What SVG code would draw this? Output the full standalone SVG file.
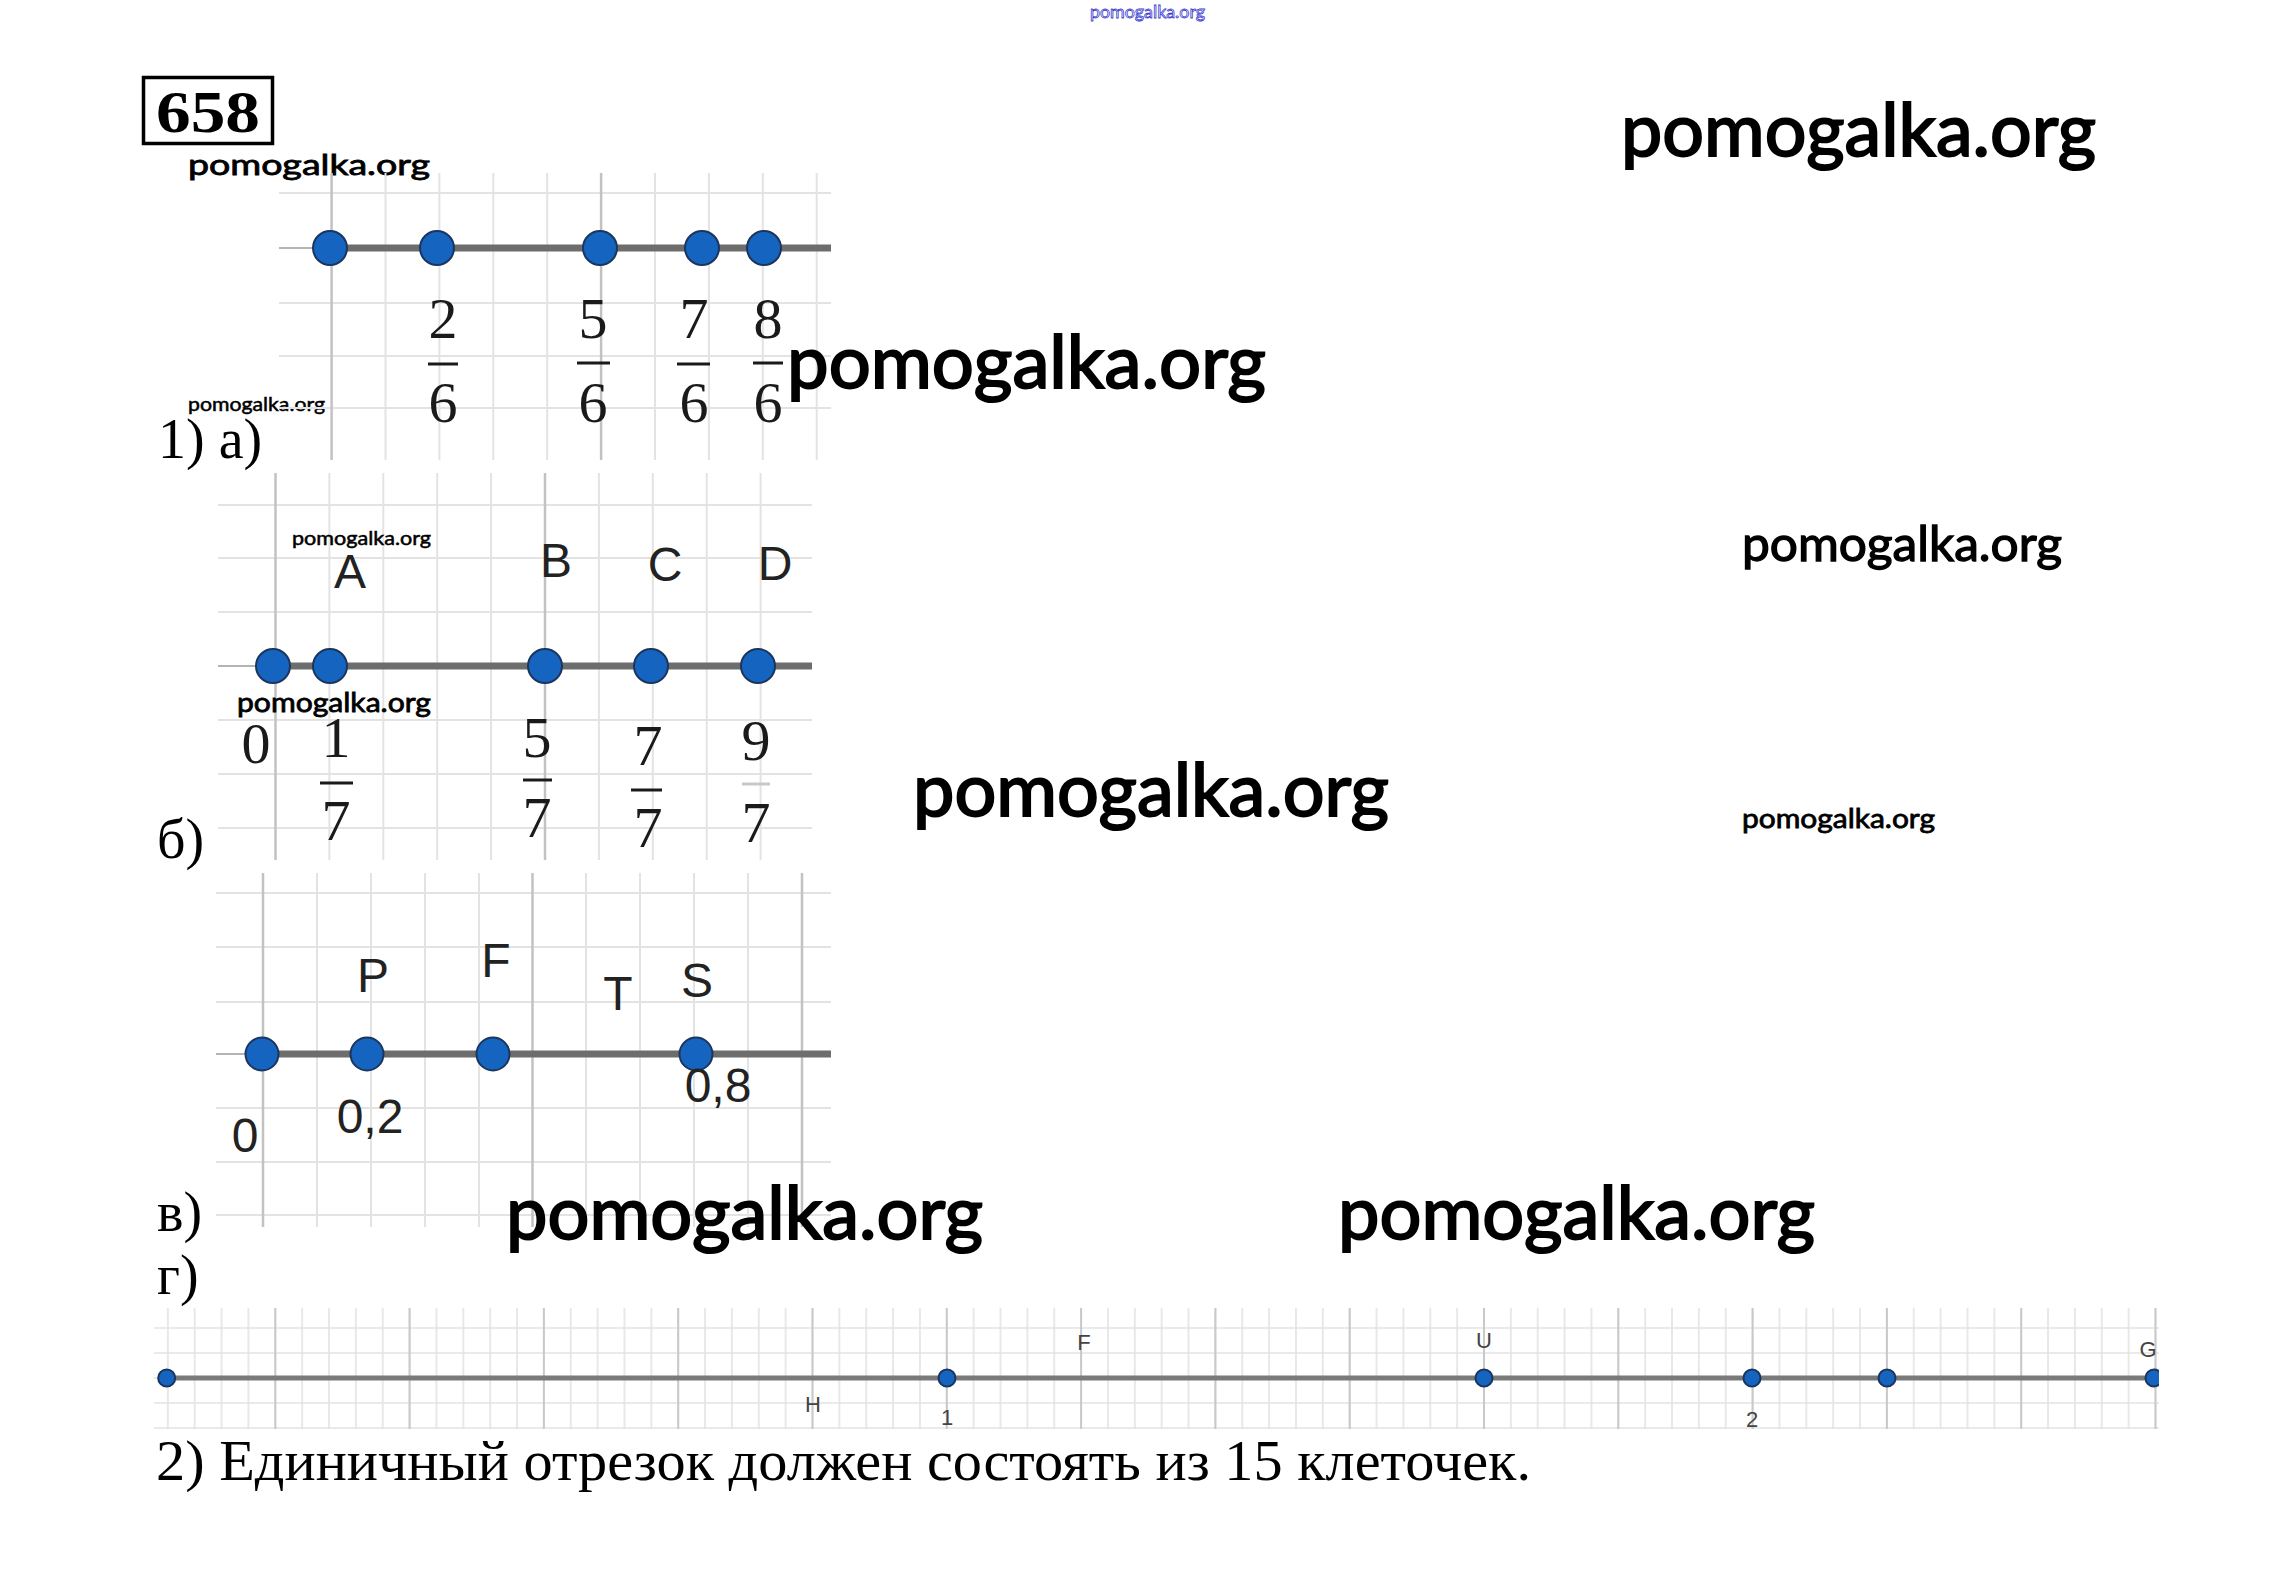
<svg xmlns="http://www.w3.org/2000/svg" width="2293" height="1589" viewBox="0 0 2293 1589">
<defs>
<style>
.wm{font-family:Lato,"Open Sans",sans-serif;font-weight:400;fill:#000;stroke:#000}
.ser{font-family:"Liberation Serif","DejaVu Serif",serif;fill:#000}
.frac{font-family:"Liberation Serif","DejaVu Serif",serif;font-size:58px;text-anchor:middle;fill:#1a1a1a}
.lab{font-family:"Liberation Sans",Arial,sans-serif;fill:#222;text-anchor:middle;font-size:48px}
.sm{font-family:"Liberation Sans",Arial,sans-serif;fill:#444;text-anchor:middle;font-size:22px}
.minor{stroke:#e3e3e3;stroke-width:2;fill:none}
.major{stroke:#c2c2c2;stroke-width:2.5;fill:none}
.axis{stroke:#b4b4b4;stroke-width:2;fill:none}
.seg{stroke:#6d6d6d;stroke-width:7;fill:none}
.dot{fill:#1565c0;stroke:#1c355e;stroke-width:2}
.bar{stroke:#1a1a1a;stroke-width:3}
</style>
<pattern id="gMinor" patternUnits="userSpaceOnUse" x="140" y="1302" width="26.86" height="25">
<path d="M1,0V25M0,1H26.86" stroke="#e3e3e3" stroke-width="1.6" fill="none"/>
</pattern>
<pattern id="gMajor" patternUnits="userSpaceOnUse" x="140" y="0" width="134.3" height="1589">
<path d="M1,0V1589" stroke="#c6c6c6" stroke-width="1.8"/>
</pattern>
<clipPath id="clipG"><rect x="150" y="1300" width="2009" height="140"/></clipPath>
</defs>
<rect width="2293" height="1589" fill="#fff"/>

<g id="watermarks">
<text x="1090" y="18" font-family="Lato,sans-serif" font-size="18" fill="#fff" stroke="#3a3ad0" stroke-width="0.8" textLength="115" lengthAdjust="spacingAndGlyphs">pomogalka.org</text>
<text class="wm" x="188" y="175" font-size="28" stroke-width="0.8" textLength="242" lengthAdjust="spacingAndGlyphs">pomogalka.org</text>
<text class="wm" x="1621" y="156" font-size="74" stroke-width="2" textLength="475" lengthAdjust="spacingAndGlyphs">pomogalka.org</text>
<text class="wm" x="188" y="411" font-size="19" stroke-width="0.5" textLength="137" lengthAdjust="spacingAndGlyphs">pomogalka.org</text>
<text class="wm" x="1742" y="561" font-size="48" stroke-width="1.3" textLength="320" lengthAdjust="spacingAndGlyphs">pomogalka.org</text>
<text class="wm" x="1742" y="828" font-size="27" stroke-width="0.8" textLength="193" lengthAdjust="spacingAndGlyphs">pomogalka.org</text>
</g>

<g id="title">
<rect x="143.5" y="77.5" width="129" height="66" fill="none" stroke="#000" stroke-width="3.5"/>
<text class="ser" x="156" y="132" font-size="60" font-weight="bold" textLength="104" lengthAdjust="spacingAndGlyphs">658</text>
</g>

<g id="part-a">
<path class="minor" d="M385.5,173V460M439.4,173V460M493.3,173V460M547.2,173V460M655,173V460M708.9,173V460M762.8,173V460M816.7,173V460M279,193H831M279,303H831M279,356H831M279,408H831"/>
<path class="major" d="M331.6,173V460M601.1,173V460"/>
<path class="axis" d="M279,248H331"/>
<path class="seg" d="M330,248H831"/>
<circle class="dot" cx="330" cy="248" r="17"/>
<circle class="dot" cx="437" cy="248" r="17"/>
<circle class="dot" cx="600" cy="248" r="17"/>
<circle class="dot" cx="702" cy="248" r="17"/>
<circle class="dot" cx="764" cy="248" r="17"/>
<text class="frac" x="443" y="338">2</text><line class="bar" x1="428" y1="364" x2="458" y2="364"/><text class="frac" x="443" y="422">6</text>
<text class="frac" x="593" y="338">5</text><line class="bar" x1="577" y1="363" x2="610" y2="363"/><text class="frac" x="593" y="422">6</text>
<text class="frac" x="694" y="338">7</text><line class="bar" x1="677" y1="364" x2="710" y2="364"/><text class="frac" x="694" y="422">6</text>
<text class="frac" x="768" y="338">8</text><line class="bar" x1="753" y1="363" x2="783" y2="363"/><text class="frac" x="768" y="422">6</text>
<text class="wm" x="787" y="388" font-size="74" stroke-width="2" textLength="479" lengthAdjust="spacingAndGlyphs">pomogalka.org</text>
<text class="ser" x="158" y="458" font-size="56">1) а)</text>
</g>

<g id="part-b">
<path class="minor" d="M329.4,473V860M383.3,473V860M437.2,473V860M491.1,473V860M598.9,473V860M652.8,473V860M706.7,473V860M760.6,473V860M218,505H812M218,558H812M218,612H812M218,720H812M218,774H812M218,828H812"/>
<path class="major" d="M275.5,473V860M545,473V860"/>
<path class="axis" d="M218,666H273"/>
<path class="seg" d="M273,666H812"/>
<text class="wm" x="292" y="545" font-size="19" stroke-width="0.5" textLength="139" lengthAdjust="spacingAndGlyphs">pomogalka.org</text>
<text class="lab" x="350" y="588" font-size="44">A</text>
<text class="lab" x="556" y="577">B</text>
<text class="lab" x="665" y="581">C</text>
<text class="lab" x="775" y="580">D</text>
<circle class="dot" cx="273" cy="666" r="17"/>
<circle class="dot" cx="330" cy="666" r="17"/>
<circle class="dot" cx="545" cy="666" r="17"/>
<circle class="dot" cx="651" cy="666" r="17"/>
<circle class="dot" cx="758" cy="666" r="17"/>
<text class="wm" x="237" y="712" font-size="27" stroke-width="0.8" textLength="194" lengthAdjust="spacingAndGlyphs">pomogalka.org</text>
<text class="frac" x="256" y="763" font-size="54" fill="#333">0</text>
<text class="frac" x="336" y="757">1</text><line class="bar" x1="320" y1="783" x2="353" y2="783"/><text class="frac" x="336" y="840">7</text>
<text class="frac" x="537" y="757" fill="#bdbdbd">5</text><line class="bar" x1="523" y1="780" x2="552" y2="780"/><text class="frac" x="537" y="837">7</text>
<text class="frac" x="648" y="765" fill="#555">7</text><line class="bar" x1="631" y1="790" x2="662" y2="790"/><text class="frac" x="648" y="847" fill="#777">7</text>
<text class="frac" x="756" y="760" fill="#b0b0b0">9</text><line x1="742" y1="784" x2="770" y2="784" stroke="#c8c8c8" stroke-width="3"/><text class="frac" x="756" y="842" fill="#cfcfcf">7</text>
<text class="wm" x="913" y="816" font-size="74" stroke-width="2" textLength="476" lengthAdjust="spacingAndGlyphs">pomogalka.org</text>
<text class="ser" x="157" y="858" font-size="56">б)</text>
</g>

<g id="part-c">
<path class="minor" d="M317,873V1227M371,873V1227M425,873V1227M479,873V1227M586,873V1227M640,873V1227M694,873V1227M748,873V1227M216,893H831M216,947H831M216,1002H831M216,1108H831M216,1162H831M216,1215H831"/>
<path class="major" d="M263,873V1227M532.5,873V1227M802,873V1227"/>
<path class="axis" d="M216,1054H262"/>
<path class="seg" d="M262,1054H831"/>
<text class="lab" x="373" y="992">P</text>
<text class="lab" x="496" y="977">F</text>
<text class="lab" x="618" y="1010">T</text>
<text class="lab" x="697" y="997">S</text>
<circle class="dot" cx="262" cy="1054" r="16.5"/>
<circle class="dot" cx="367" cy="1054" r="16.5"/>
<circle class="dot" cx="493" cy="1054" r="16.5"/>
<circle class="dot" cx="696" cy="1054" r="16.5"/>
<text class="lab" x="245" y="1152">0</text>
<text class="lab" x="370" y="1133">0,2</text>
<text class="lab" x="718" y="1102">0,8</text>
<text class="wm" x="506" y="1239" font-size="74" stroke-width="2" textLength="477" lengthAdjust="spacingAndGlyphs">pomogalka.org</text>
<text class="wm" x="1338" y="1239" font-size="74" stroke-width="2" textLength="477" lengthAdjust="spacingAndGlyphs">pomogalka.org</text>
<text class="ser" x="157" y="1231" font-size="56">в)</text>
</g>

<g id="part-d">
<text class="ser" x="157" y="1294" font-size="56">г)</text>
<g clip-path="url(#clipG)">
<rect x="154" y="1308" width="2005" height="121" fill="url(#gMinor)"/>
<rect x="154" y="1308" width="2005" height="121" fill="url(#gMajor)"/>
<path d="M166,1378H2160" stroke="#7a7a7a" stroke-width="5"/>
<circle class="dot" cx="166.7" cy="1378" r="8.5"/>
<circle class="dot" cx="947" cy="1378" r="8.5"/>
<circle class="dot" cx="1484" cy="1378" r="8.5"/>
<circle class="dot" cx="1752" cy="1378" r="8.5"/>
<circle class="dot" cx="1887" cy="1378" r="8.5"/>
<circle class="dot" cx="2154" cy="1378" r="8.5"/>
<text class="sm" x="1084" y="1350">F</text>
<text class="sm" x="1484" y="1348">U</text>
<text class="sm" x="2148" y="1357">G</text>
<text class="sm" x="813" y="1412">H</text>
<text class="sm" x="947" y="1425">1</text>
<text class="sm" x="1752" y="1427">2</text>
</g>
</g>

<g id="answer">
<text class="ser" x="156" y="1480" font-size="56" textLength="1375" lengthAdjust="spacingAndGlyphs">2) Единичный отрезок должен состоять из 15 клеточек.</text>
</g>
</svg>
